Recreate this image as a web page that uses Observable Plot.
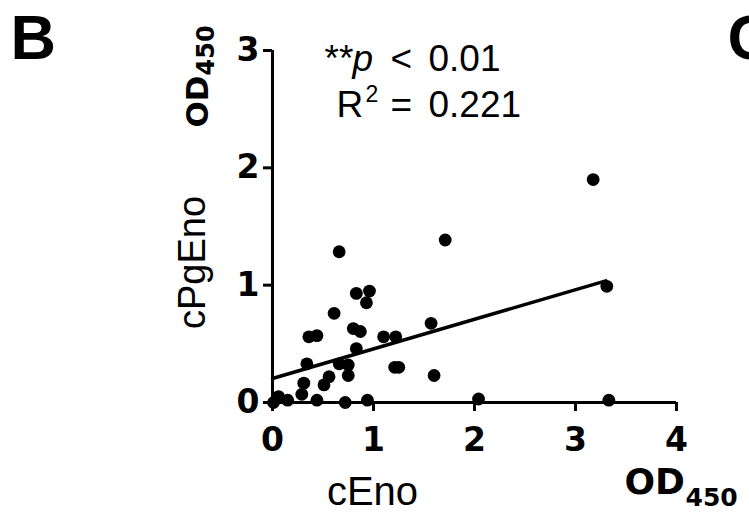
<!DOCTYPE html>
<html>
<head>
<meta charset="utf-8">
<script src="https://cdn.jsdelivr.net/npm/d3@7"></script>
<script src="https://cdn.jsdelivr.net/npm/@observablehq/plot@0.6"></script>
<style>
  html, body { margin: 0; padding: 0; background: #fff; }
</style>
</head>
<body>
<div id="chart"></div>
<script>
// ---- data ----
const cEno   = [0.01, 0.06, 0.15, 0.29, 0.31, 0.34, 0.36, 0.44, 0.44, 0.51,
                0.56, 0.61, 0.66, 0.66, 0.72, 0.75, 0.75, 0.80, 0.83, 0.83,
                0.87, 0.93, 0.94, 0.96, 1.10, 1.21, 1.25, 1.22, 1.57, 1.60,
                1.71, 2.04, 3.175, 3.31, 3.33];
const cPgEno = [0.00, 0.05, 0.02, 0.07, 0.165, 0.33, 0.56, 0.57, 0.02, 0.15,
                0.22, 0.76, 0.33, 1.285, 0.00, 0.32, 0.23, 0.63, 0.93, 0.46,
                0.605, 0.85, 0.02, 0.95, 0.56, 0.30, 0.30, 0.56, 0.675, 0.23,
                1.385, 0.03, 1.90, 0.99, 0.02];
const xTicks = [0, 1, 2, 3, 4];
const yTicks = [0, 1, 2, 3];
const fitIntercept = 0.205;
const fitSlope = 0.252;
const fitRange = [0, 3.3];
const pText = "< 0.01";
const r2Text = "= 0.221";

// ---- build tables ----
const points = cEno.map((x, i) => ({x, y: cPgEno[i]}));
const fit = fitRange.map(x => ({x, y: fitIntercept + fitSlope * x}));

const W = 749, H = 513;
const mL = 272, mR = 73, mT = 50, mB = 111;
const SANS = "Liberation Sans, Arial, Helvetica, sans-serif";
const BOLD = "DejaVu Sans, sans-serif";

// annotation helper: absolute pixel position -> offset from frame top-left
function ann(txt, X, Y, o = {}) {
  return Plot.text([txt], {
    text: d => d,
    frameAnchor: "top-left",
    dx: X - mL, dy: Y - mT,
    textAnchor: "start",
    lineAnchor: "bottom",
    fill: "black",
    fontFamily: SANS,
    fontSize: 37,
    ...o
  });
}

const chart = Plot.plot({
  width: W, height: H,
  marginLeft: mL, marginRight: mR, marginTop: mT, marginBottom: mB,
  style: {fontFamily: SANS, background: "white", color: "black", overflow: "visible"},
  x: {domain: [0, 4], label: null},
  y: {domain: [0, 3], label: null},
  marks: [
    Plot.ruleX([0], {stroke: "black", strokeWidth: 3}),
    Plot.ruleY([0], {stroke: "black", strokeWidth: 3}),
    Plot.axisX(xTicks, {tickSize: 9, tickPadding: 16, strokeWidth: 3, fontSize: 33,
      fontWeight: "bold", fontFamily: BOLD, tickFormat: d => String(d), label: null}),
    Plot.axisY(yTicks, {tickSize: 9, tickPadding: 4, strokeWidth: 3, fontSize: 33,
      fontWeight: "bold", fontFamily: BOLD, tickFormat: d => String(d), label: null}),
    Plot.line(fit, {x: "x", y: "y", stroke: "black", strokeWidth: 3.5}),
    Plot.dot(points, {x: "x", y: "y", r: 6.4, fill: "black", stroke: null}),
    // panel letters
    ann("B", 10, 58, {fontSize: 63, fontWeight: "bold"}),
    ann("C", 727, 58, {fontSize: 63, fontWeight: "bold"}),
    // statistics
    ann("**", 324, 70),
    ann("p", 352, 70, {fontStyle: "italic"}),
    ann(pText.slice(0, 1), 390, 70),
    ann(pText.slice(2), 428, 70),
    ann("R", 336, 116),
    ann("2", 365, 101, {fontSize: 23}),
    ann(r2Text.slice(0, 1), 390, 116),
    ann(r2Text.slice(2), 428, 116),
    // axis titles
    ann("cEno", 372, 504, {textAnchor: "middle", fontSize: 40}),
    ann("cPgEno", 204, 262, {textAnchor: "middle", rotate: -90, fontSize: 38}),
    // units
    ann("OD", 624, 493, {fontFamily: BOLD, fontWeight: "bold", fontSize: 36}),
    ann("450", 685, 505, {fontFamily: BOLD, fontWeight: "bold", fontSize: 25}),
    ann("OD", 207, 127, {fontFamily: BOLD, fontWeight: "bold", fontSize: 31, rotate: -90}),
    ann("450", 213, 75, {fontFamily: BOLD, fontWeight: "bold", fontSize: 24, rotate: -90})
  ]
});

document.getElementById("chart").appendChild(chart);
</script>
</body>
</html>
